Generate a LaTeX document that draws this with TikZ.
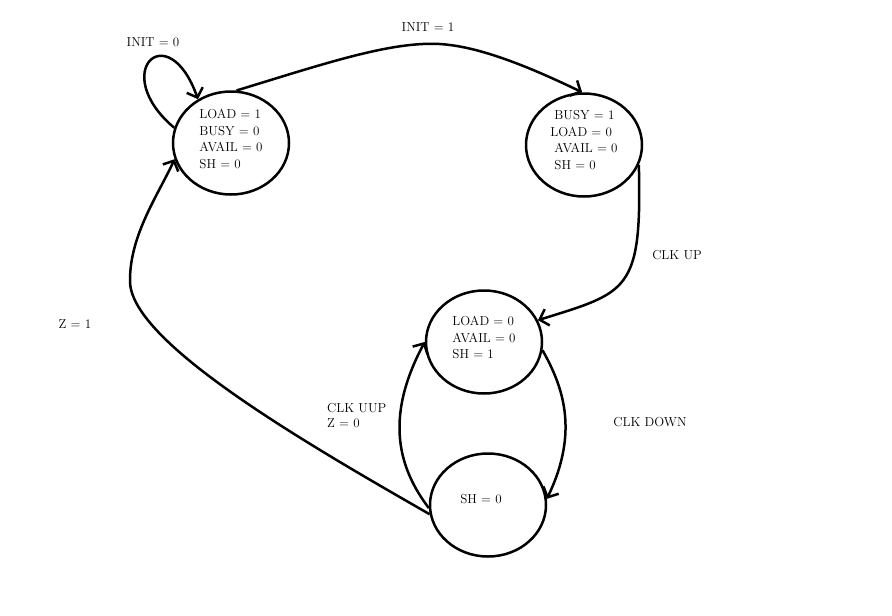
\documentclass[tikz,border=0pt]{standalone}
\usepackage{amsmath}
\usepackage{tikz}
\usetikzlibrary{arrows.meta}
\usetikzlibrary{shapes.geometric}
\usetikzlibrary{positioning}
\tikzset{state/.style = {draw, ellipse, line width = 2.5pt, minimum width = 116pt,
                         minimum height = 103pt, inner sep = 0, align = left,
                         font = \fontsize{13}{16.5}\selectfont}}
\tikzset{trans/.style = {line width = 2.5pt, -{Straight Barb[length = 8pt, width = 17pt]}}}
\tikzset{lbl/.style = {font = \fontsize{13}{15.5}\selectfont, align = left, inner sep = 0}}

\begin{document}
\begin{tikzpicture}[x = 1pt, y = -1pt]
    \useasboundingbox (0, 0) rectangle (892, 616);

    \node [state] (load) at (231, 143) {LOAD = 1\\BUSY = 0\\AVAIL = 0\\SH = 0\\[-8pt]};
    \node [state] (busy) at (584, 145) {\hspace{4pt}BUSY = 1\\LOAD = 0\\\hspace{4pt}AVAIL = 0\\\hspace{4pt}SH = 0\\[-6pt]};
    \node [state] (shift) at (484, 342) {LOAD = 0\\AVAIL = 0\\SH = 1\\[-8pt]};
    \node [state] (idle) at (488, 505) {\hspace{-14pt}SH = 0\\[-4pt]};

    \node [lbl] (init0) at (153, 42) {INIT = 0};
    \node [lbl] (init1) at (428, 27) {INIT = 1};
    \node [lbl] (clkup) at (677, 255) {CLK UP};
    \node [lbl] (clkdown) at (650, 422) {CLK DOWN};
    \node [lbl, anchor = north west] (clkuup) at (327, 403) {CLK UUP\\Z = 0};
    \node [lbl] (zone) at (75, 324) {Z = 1};

    \draw [trans] (load.165) .. controls (108, 72) and (168, 15) .. (load.127);
    \draw [trans] (load.84) .. controls (330, 62) and (400, 38) .. (450, 45)
                  .. controls (490, 50) and (540, 72) .. (busy.92);
    \draw [trans] (busy.340) .. controls (642, 292) and (628, 292) .. (shift.22);
    \draw [trans] (shift.352) .. controls (562, 385) and (580, 430) .. (idle.6);
    \draw [trans] (idle.183) .. controls (400, 470) and (383, 420) .. (shift.180);
    \draw [trans] (idle.189) .. controls (300, 440) and (128, 340) .. (130, 280)
                  .. controls (130, 235) and (158, 195) .. (load.196);
  \end{tikzpicture}
\end{document}
